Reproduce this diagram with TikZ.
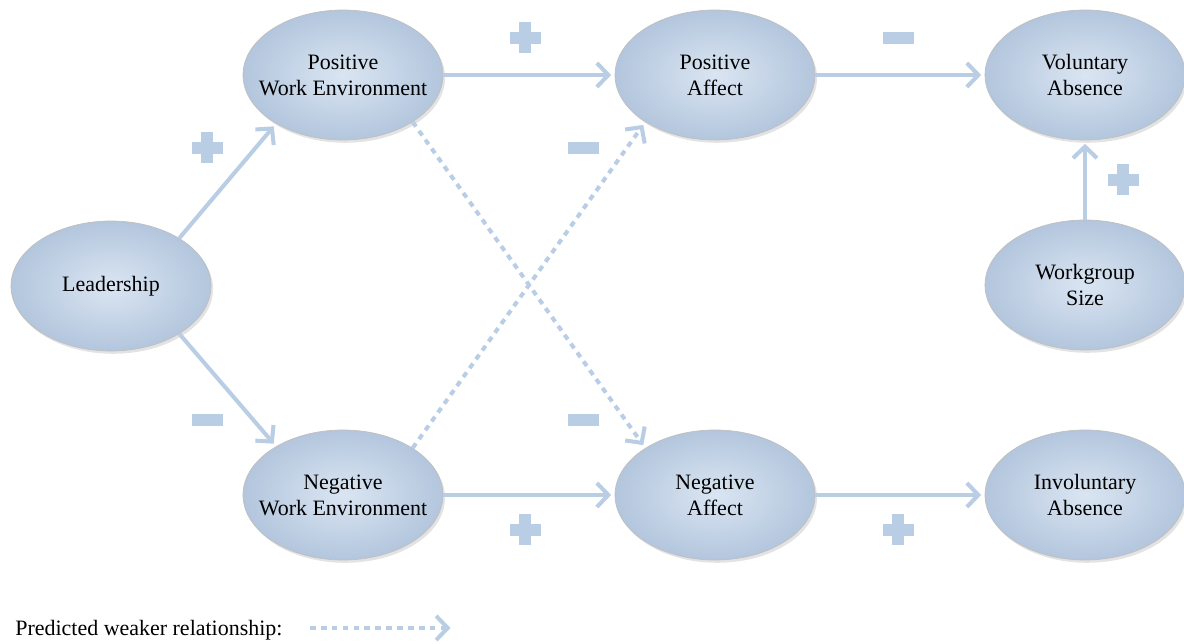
\documentclass[tikz,border=0pt]{standalone}
\usepackage{fontspec}
\setmainfont{Liberation Serif}
\usetikzlibrary{shapes.geometric,arrows.meta,shadows}
\definecolor{pfeil}{HTML}{B9CDE5}
\definecolor{blasshell}{HTML}{DAE5F2}
\definecolor{blassdunkel}{HTML}{B3C6DD}
\begin{document}
\begin{tikzpicture}[
			x=0.02cm, y=-0.02cm,
			feld/.style={ellipse, minimum width=4cm, minimum height=2.6cm,
				inner xsep=-0.32cm, inner ysep=0pt, align=center,
				draw=gray!50, thin,
				inner color=blasshell, outer color=blassdunkel,
				drop shadow={opacity=0.22, shadow xshift=1.2pt,
					shadow yshift=-1.6pt},
				font=\fontsize{12.5}{14.8}\selectfont},
			pfeilstil/.style={line width=2.3pt, pfeil, line cap=butt,
				-{Straight Barb[length=2.3mm, width=4.8mm]},
				shorten >=2pt},
			schwach/.style={pfeilstil, dash pattern=on 3.2pt off 3pt},
			plussign/.pic={
				\fill[pfeil](-15.5,-6)rectangle(15.5,6);
				\fill[pfeil](-6,-15.5)rectangle(6,15.5);},
			minussign/.pic={
				\fill[pfeil](-15.5,-6)rectangle(15.5,6);},
			]
			\useasboundingbox (0,0) rectangle (1184,644);
			
			\node[feld] (lead) at (111,286) {Leadership};
			\node[feld] (pwe) at (343,75) {Positive\\Work Environment};
			\node[feld] (nwe) at (343,495) {Negative\\Work Environment};
			\node[feld] (pa) at (715,75) {Positive\\Affect};
			\node[feld] (na) at (715,495) {Negative\\Affect};
			\node[feld] (va) at (1085,75) {Voluntary\\Absence};
			\node[feld] (ws) at (1085,285) {Workgroup\\Size};
			\node[feld] (ia) at (1085,495) {Involuntary\\Absence};
			
			\draw[pfeilstil](lead.35)--(pwe.216);
			\draw[pfeilstil](lead.-35)--(nwe.144);
			\draw[pfeilstil](pwe.east)--(pa.west);
			\draw[pfeilstil](pa.east)--(va.west);
			\draw[pfeilstil](nwe.east)--(na.west);
			\draw[pfeilstil](na.east)--(ia.west);
			\draw[pfeilstil](ws.north)--(va.south);
			\draw[schwach](pwe.-34)--(na.146);
			\draw[schwach](nwe.34)--(pa.-146);
			
			\pic at (207,148) {plussign};
			\pic at (207,420) {minussign};
			\pic at (525,38) {plussign};
			\pic at (898,38) {minussign};
			\pic at (583,148) {minussign};
			\pic at (583,420) {minussign};
			\pic at (525,530) {plussign};
			\pic at (898,530) {plussign};
			\pic at (1123,180) {plussign};
			
			\node[anchor=west, inner sep=0pt,
			font=\fontsize{12.5}{13.5}\selectfont] (leg) at (15,630)
			{Predicted weaker relationship:};
			\coordinate (legA) at (310,628);
			\coordinate (legB) at (454,628);
			\draw[schwach](legA)--(legB);
		\end{tikzpicture}
\end{document}
